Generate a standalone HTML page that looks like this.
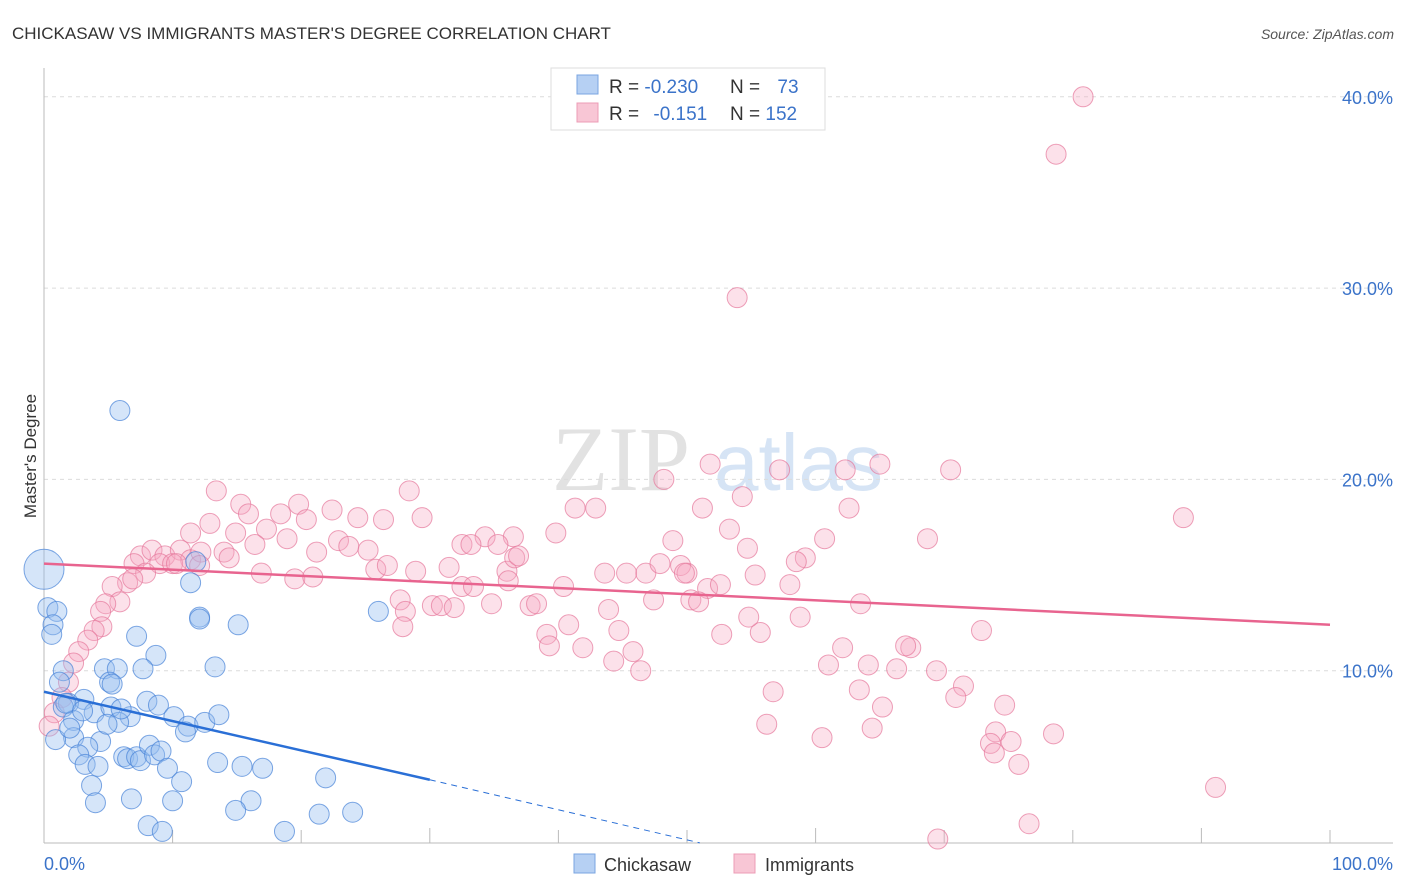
<!DOCTYPE html>
<html><head><meta charset="utf-8"><style>
body{margin:0;background:#fff;font-family:"Liberation Sans",sans-serif;}
svg{display:block}
</style></head><body>
<svg id="chart" width="1406" height="892">
<text x="12" y="39" font-size="17" fill="#333">CHICKASAW VS IMMIGRANTS MASTER'S DEGREE CORRELATION CHART</text>
<text x="1394" y="39" font-size="14" fill="#555" font-style="italic" text-anchor="end">Source: ZipAtlas.com</text>
<g>
<text x="552" y="490" font-size="92" fill="#e2e2e2" font-family="Liberation Serif,serif">ZIP</text>
<text x="714" y="490" font-size="80" fill="#d6e4f5">atlas</text>
</g>
<g id="grid"></g>
<g id="axes"></g>
<g id="marks"></g>
<text x="36" y="456" font-size="17" fill="#333" transform="rotate(-90 36 456)" text-anchor="middle">Master's Degree</text>
<g>
<rect x="551" y="68" width="274" height="62" fill="#fff" stroke="#ddd"/>
<rect x="577" y="75" width="21" height="19" fill="#b6d0f3" stroke="#7aa5e0"/>
<rect x="577" y="103" width="21" height="19" fill="#f8c6d5" stroke="#ec9cb6"/>
<text x="609" y="93" font-size="19" fill="#333">R = <tspan fill="#3b73c9">-0.230</tspan></text>
<text x="730" y="93" font-size="19" fill="#333">N = <tspan fill="#3b73c9" dx="12">73</tspan></text>
<text x="609" y="120" font-size="19" fill="#333">R = <tspan fill="#3b73c9" dx="9">-0.151</tspan></text>
<text x="730" y="120" font-size="19" fill="#333">N = <tspan fill="#3b73c9">152</tspan></text>
</g>
<g>
<rect x="574" y="854" width="21" height="19" fill="#b6d0f3" stroke="#7aa5e0"/>
<text x="604" y="871" font-size="18" fill="#333">Chickasaw</text>
<rect x="734" y="854" width="21" height="19" fill="#f8c6d5" stroke="#ec9cb6"/>
<text x="765" y="871" font-size="18" fill="#333">Immigrants</text>
</g>
</svg>
<script>
const yTicks=[10,20,30,40];
const yTickLabels=["10.0%","20.0%","30.0%","40.0%"];
const xTicks=[0,10,20,30,40,50,60,70,80,90,100];
const blueX=[5.9,0,0.3,1.0,0.7,0.6,7.2,12.1,12.1,15.1,26.0,11.4,11.8,8.7,1.5,4.7,5.7,7.7,13.3,1.2,5.1,3.1,1.9,1.5,3.9,5.2,6.7,8.0,8.9,10.1,11.2,12.5,13.6,2.3,2.3,4.4,3.4,2.7,3.2,4.2,6.2,6.5,7.2,7.5,8.2,8.6,9.1,9.6,10.7,13.5,15.4,17.0,21.9,3.7,4.0,6.8,10.0,16.1,14.9,8.1,9.2,18.7,21.4,24.0,5.8,1.7,3.0,4.9,5.3,0.9,2.0,6.0,11.0];
const blueY=[23.6,15.3,13.3,13.1,12.4,11.9,11.8,12.8,12.7,12.4,13.1,14.6,15.7,10.8,10.0,10.1,10.1,10.1,10.2,9.4,9.4,8.5,8.3,8.1,7.8,8.1,7.6,8.4,8.2,7.6,7.1,7.3,7.7,7.4,6.5,6.3,6.0,5.6,5.1,5.0,5.5,5.4,5.5,5.3,6.1,5.6,5.8,4.9,4.2,5.2,5.0,4.9,4.4,4.0,3.1,3.3,3.2,3.2,2.7,1.9,1.6,1.6,2.5,2.6,7.3,8.3,7.9,7.2,9.3,6.4,7.0,8.0,6.8];
const pinkX=[80.8,78.7,53.9,51.8,57.2,62.3,65.0,70.5,48.2,54.3,88.6,13.4,28.4,15.3,19.8,41.3,42.9,51.2,62.6,29.4,15.9,22.4,24.4,26.4,12.9,18.4,11.4,17.3,20.4,53.3,68.7,39.8,34.3,36.5,14.9,18.9,16.4,21.2,22.9,23.7,25.2,32.5,33.2,35.3,60.7,48.9,7.5,8.4,9.4,10.6,11.4,14.0,12.2,14.4,9.0,10.0,7.0,7.9,10.3,12.1,25.8,26.7,31.5,36.0,36.6,36.9,19.5,20.9,16.9,28.9,6.5,6.9,5.3,5.9,4.8,4.4,4.5,3.9,3.4,2.7,2.3,1.9,1.4,0.8,0.4,30.2,30.9,31.9,27.7,28.1,27.9,32.5,33.4,36.1,37.8,38.3,34.8,39.1,39.3,40.8,41.9,40.4,43.6,43.9,45.3,44.7,46.8,47.9,49.5,50.0,45.8,44.3,46.4,51.6,52.6,50.3,47.4,49.8,50.9,54.7,55.3,58.0,59.2,58.5,52.7,55.7,54.8,58.8,62.1,64.1,61.0,67.4,67.0,66.3,69.4,72.9,71.5,70.9,74.7,74.0,73.6,75.2,73.9,75.8,78.5,76.6,69.5,65.2,64.4,63.4,60.5,56.2,56.7,91.1,63.5];
const pinkY=[40.0,37.0,29.5,20.8,20.5,20.5,20.8,20.5,20.0,19.1,18.0,19.4,19.4,18.7,18.7,18.5,18.5,18.5,18.5,18.0,18.2,18.4,18.0,17.9,17.7,18.2,17.2,17.4,17.9,17.4,16.9,17.2,17.0,17.0,17.2,16.9,16.6,16.2,16.8,16.5,16.3,16.6,16.6,16.6,16.9,16.8,16.0,16.3,16.0,16.3,15.8,16.2,16.2,15.9,15.6,15.6,15.6,15.1,15.6,15.5,15.3,15.5,15.4,15.2,15.9,16.0,14.8,14.9,15.1,15.2,14.6,14.8,14.4,13.6,13.5,13.1,12.3,12.1,11.6,11.0,10.4,9.4,8.6,7.8,7.1,13.4,13.4,13.3,13.7,13.1,12.3,14.4,14.4,14.7,13.4,13.5,13.5,11.9,11.3,12.4,11.2,14.4,15.1,13.2,15.1,12.1,15.1,15.6,15.5,15.1,11.0,10.5,10.0,14.3,14.5,13.7,13.7,15.1,13.6,16.4,15.0,14.5,15.9,15.7,11.9,12.0,12.8,12.8,11.2,10.3,10.3,11.2,11.3,10.1,10.0,12.1,9.2,8.6,8.2,6.8,6.2,6.3,5.7,5.1,6.7,2.0,1.2,8.1,7.0,9.0,6.5,7.2,8.9,3.9,13.5];
const blueTrend=[[0,8.9],[30,4.3]];
const blueDash=[[30,4.3],[51,1.0]];
const pinkTrend=[[0,15.6],[100,12.4]];

const NS="http://www.w3.org/2000/svg";
const X=v=>44+v*12.86;
const Y=v=>862-v*19.13;
function mk(tag,attrs,parent){const e=document.createElementNS(NS,tag);for(const k in attrs)e.setAttribute(k,attrs[k]);parent.appendChild(e);return e;}
const grid=document.getElementById('grid'),axes=document.getElementById('axes'),marks=document.getElementById('marks');
yTicks.forEach((t,i)=>{
 const l=mk('line',{x1:44,x2:1393,y1:Y(t),y2:Y(t),stroke:'#dcdcdc','stroke-dasharray':'4,4'},grid);
 
 
 const tx=mk('text',{x:1393,y:Y(t)+7,'font-size':18,fill:'#3b73c9','text-anchor':'end'},axes);
 tx.textContent=yTickLabels[i];
 
 
});
const ax=mk('line',{x1:44,x2:1393,y1:843,y2:843,stroke:'#bbb'},axes);


const ay=mk('line',{x1:44,x2:44,y1:68,y2:843,stroke:'#bbb'},axes);


xTicks.forEach(t=>{
 const big=(t%30===0);
 const l=mk('line',{x1:X(t),x2:X(t),y1:big?828:830,y2:843,stroke:'#bbb'},axes);
 
 
});
const x0=mk('text',{x:44,y:870,'font-size':18,fill:'#3b73c9'},axes);x0.textContent='0.0%';


const x1=mk('text',{x:1393,y:870,'font-size':18,fill:'#3b73c9','text-anchor':'end'},axes);x1.textContent='100.0%';


pinkX.forEach((v,i)=>{
 const c=mk('circle',{cx:X(v),cy:Y(pinkY[i]),r:10,fill:'rgba(245,170,195,0.35)',stroke:'rgba(230,120,155,0.7)','stroke-width':1},marks);
 
 
});
blueX.forEach((v,i)=>{
 const c=mk('circle',{cx:X(v),cy:Y(blueY[i]),r:i===1?20:10,fill:'rgba(150,190,240,0.4)',stroke:'rgba(70,130,215,0.7)','stroke-width':1},marks);
 
 
});
const pt=mk('line',{x1:X(pinkTrend[0][0]),y1:Y(pinkTrend[0][1]),x2:X(pinkTrend[1][0]),y2:Y(pinkTrend[1][1]),stroke:'#e8648f','stroke-width':2.5},marks);


const bt=mk('line',{x1:X(blueTrend[0][0]),y1:Y(blueTrend[0][1]),x2:X(blueTrend[1][0]),y2:Y(blueTrend[1][1]),stroke:'#2a6fd6','stroke-width':2.5},marks);


const bd=mk('line',{x1:X(blueDash[0][0]),y1:Y(blueDash[0][1]),x2:X(blueDash[1][0]),y2:Y(blueDash[1][1]),stroke:'#2a6fd6','stroke-width':1,'stroke-dasharray':'6,5'},marks);


</script>
</body></html>
